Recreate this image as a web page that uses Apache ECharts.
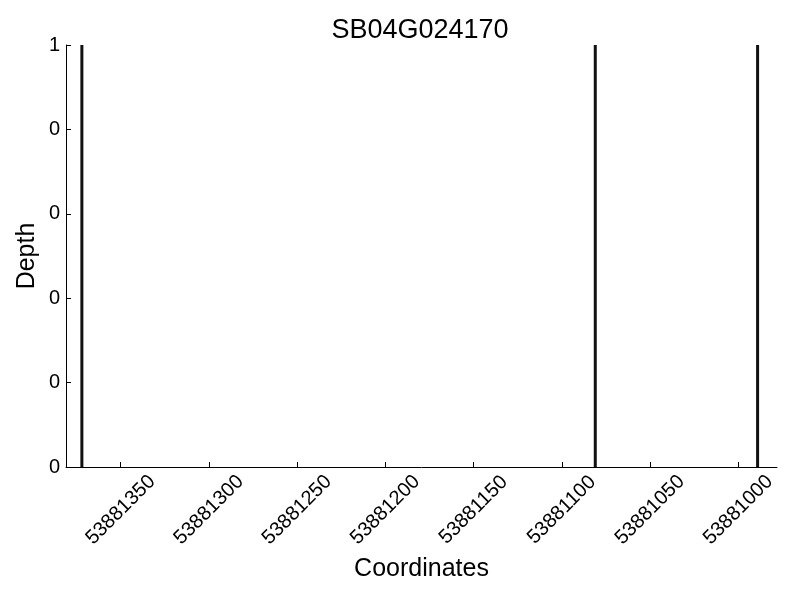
<!DOCTYPE html>
<html>
<head>
<meta charset="utf-8">
<script src="https://cdn.jsdelivr.net/npm/echarts@6/dist/echarts.min.js"></script>
<style>html,body{margin:0;padding:0;background:#fff;}#c{width:800px;height:600px;}</style>
</head>
<body>
<div id="c"></div>
<script>
const title = 'SB04G024170';
const positions = [53881372, 53881081, 53880989];
const depths = [1, 1, 1];
const xTicks = [53881350, 53881300, 53881250, 53881200, 53881150, 53881100, 53881050, 53881000];
const xMin = 53880978, xMax = 53881381;

const chart = echarts.init(document.getElementById('c'), null, {renderer: 'canvas'});
const font = 'Liberation Sans, Arial, sans-serif';
chart.setOption({
  animation: false,
  backgroundColor: '#fff',
  textStyle: {fontFamily: font},
  title: {text: title, left: 415, textAlign: 'center', top: 12,
    textStyle: {fontSize: 27, fontWeight: 'normal', color: '#000', fontFamily: font}},
  grid: {left: 66, right: 23, top: 45, bottom: 133, containLabel: false},
  xAxis: {
    type: 'value', inverse: true, min: xMin, max: xMax,
    name: 'Coordinates', nameLocation: 'middle', nameGap: 90, nameMoveOverlap: false,
    nameTextStyle: {fontSize: 25, color: '#000', fontFamily: font},
    axisLine: {show: true, lineStyle: {color: '#000', width: 1}},
    axisTick: {show: true, inside: true, length: 5, customValues: xTicks, lineStyle: {color: '#000'}},
    axisLabel: {rotate: 45, fontSize: 20, color: '#000', customValues: xTicks, margin: 43,
      align: 'center', verticalAlign: 'middle', fontFamily: font,
      formatter: v => String(v)},
    splitLine: {show: false}
  },
  yAxis: {
    type: 'value', min: 0, max: 1, interval: 0.2,
    name: 'Depth', nameLocation: 'middle', nameGap: 26, nameMoveOverlap: false,
    nameTextStyle: {fontSize: 25, color: '#000', fontFamily: font},
    axisLine: {show: true, lineStyle: {color: '#000', width: 1}},
    axisTick: {show: true, inside: true, length: 5, lineStyle: {color: '#000'}},
    axisLabel: {fontSize: 20, color: '#000', margin: 6, fontFamily: font,
      formatter: v => String(Math.floor(v + 1e-9))},
    splitLine: {show: false}
  },
  series: [{
    type: 'bar', barWidth: 3,
    itemStyle: {color: '#111'},
    data: positions.map((p, i) => [p, depths[i]])
  }]
});
</script>
</body>
</html>
